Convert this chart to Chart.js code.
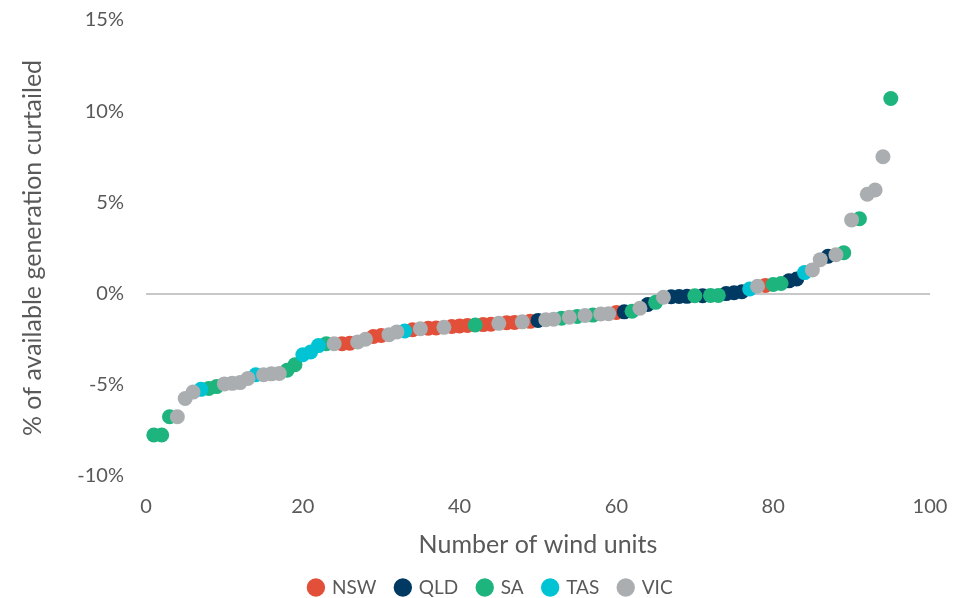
<!DOCTYPE html>
<html>
<head>
<meta charset="utf-8">
<script src="https://cdn.jsdelivr.net/npm/chart.js@4/dist/chart.umd.min.js"></script>
<style>
    html, body { margin: 0; padding: 0; background: #fff; }
    #wrap { width: 960px; height: 598px; position: relative; }
</style>
</head>
<body>
<div id="wrap"><canvas id="curtailChart"></canvas></div>
<script>
// ================= DATA =================

const regions = ["NSW", "QLD", "SA", "TAS", "VIC"];
const regionColors = ["#E2503A", "#003A63", "#1DB47E", "#00C4D3", "#ABAEB0"];

// one entry per wind unit, sorted by curtailment (unit number = position)
const unitRegion = [
    "SA", "SA", "SA", "VIC", "VIC", "VIC", "TAS", "SA", "SA", "VIC",
    "VIC", "VIC", "VIC", "TAS", "VIC", "VIC", "VIC", "SA", "SA", "TAS",
    "TAS", "TAS", "SA", "VIC", "NSW", "NSW", "VIC", "VIC", "NSW", "NSW",
    "VIC", "VIC", "TAS", "NSW", "VIC", "NSW", "NSW", "VIC", "NSW", "NSW",
    "NSW", "SA", "NSW", "NSW", "VIC", "NSW", "NSW", "VIC", "NSW", "QLD",
    "VIC", "VIC", "SA", "VIC", "SA", "VIC", "SA", "VIC", "VIC", "NSW",
    "QLD", "SA", "VIC", "QLD", "SA", "VIC", "QLD", "QLD", "QLD", "SA",
    "QLD", "SA", "SA", "QLD", "QLD", "QLD", "TAS", "VIC", "NSW", "SA",
    "SA", "QLD", "QLD", "TAS", "VIC", "VIC", "QLD", "VIC", "SA", "VIC",
    "SA", "VIC", "VIC", "VIC", "SA",
];

const unitCurtailed = [
    -7.75, -7.75, -6.75, -6.75, -5.75, -5.4, -5.25, -5.2, -5.1, -4.95,
    -4.92, -4.88, -4.65, -4.45, -4.45, -4.4, -4.38, -4.2, -3.9, -3.35,
    -3.2, -2.85, -2.75, -2.75, -2.75, -2.72, -2.65, -2.5, -2.35, -2.3,
    -2.25, -2.1, -2.05, -1.98, -1.93, -1.9, -1.88, -1.85, -1.8, -1.78,
    -1.75, -1.72, -1.7, -1.68, -1.63, -1.6, -1.58, -1.55, -1.52, -1.47,
    -1.43, -1.4, -1.35, -1.3, -1.25, -1.2, -1.18, -1.12, -1.1, -1.03,
    -1.0, -0.97, -0.8, -0.6, -0.48, -0.2, -0.17, -0.16, -0.15, -0.12,
    -0.12, -0.1, -0.1, 0.0, 0.05, 0.1, 0.25, 0.4, 0.45, 0.5,
    0.55, 0.7, 0.8, 1.15, 1.3, 1.86, 2.05, 2.13, 2.24, 4.04,
    4.1, 5.45, 5.68, 7.5, 10.7,
];

const yTicks = [-10, -5, 0, 5, 10, 15];
const xTicks = [0, 20, 40, 60, 80, 100];

// ================= BUILD =================

const textColor = "#595959";
const fontFamily = "Lato, 'Open Sans', sans-serif";

const datasets = regions.map((region, i) => {
    const points = [];
    unitRegion.forEach((r, idx) => {
        if (r === region) points.push({ x: idx + 1, y: unitCurtailed[idx] });
    });
    return {
        label: region,
        data: points,
        backgroundColor: regionColors[i],
        borderWidth: 0,
        pointRadius: 7.5,
        pointHoverRadius: 7.5,
        // later regions painted on top (VIC last)
        order: regions.length - i,
    };
});

// legend sits a little right of centre in the original
const legendShift = {
    id: "legendShift",
    afterLayout(chart) {
        if (!chart.legend) return;
        chart.legend.left += 26;
        chart.legend.right += 26;
    },
};

// ================= CHART =================

new Chart(document.getElementById("curtailChart"), {
    type: "scatter",
    data: { datasets },
    plugins: [legendShift],
    options: {
        responsive: true,
        maintainAspectRatio: false,
        animation: false,
        layout: { padding: { top: 0, right: 30, left: 0, bottom: 0 } },
        plugins: {
            tooltip: { enabled: false },
            legend: {
                position: "bottom",
                maxHeight: 40,
                labels: {
                    color: textColor,
                    font: { family: fontFamily, size: 19 },
                    usePointStyle: true,
                    pointStyle: "circle",
                    boxWidth: 13,
                    boxHeight: 13,
                    padding: 20,
                    sort: (a, b) => a.datasetIndex - b.datasetIndex,
                },
            },
        },
        scales: {
            x: {
                min: 0,
                max: 100,
                afterBuildTicks: (axis) => { axis.ticks = xTicks.map((v) => ({ value: v })); },
                afterFit: (axis) => { axis.height = 82; },
                border: { display: false },
                grid: { display: false },
                ticks: { color: textColor, font: { family: fontFamily, size: 20 }, padding: 11 },
                title: {
                    display: true,
                    text: "Number of wind units",
                    color: textColor,
                    font: { family: fontFamily, size: 25 },
                    padding: { top: 0, bottom: -2 },
                },
            },
            y: {
                min: -10,
                max: 15,
                afterBuildTicks: (axis) => { axis.ticks = yTicks.map((v) => ({ value: v })); },
                afterFit: (axis) => { axis.width = 146; },
                border: { display: false },
                grid: {
                    drawTicks: true,
                    tickLength: 14,
                    tickColor: "rgba(0,0,0,0)",
                    lineWidth: 2,
                    color: (ctx) => (ctx.tick && ctx.tick.value === 0 ? "#C8C8C8" : "rgba(0,0,0,0)"),
                },
                ticks: {
                    color: textColor,
                    font: { family: fontFamily, size: 20 },
                    padding: 8,
                    callback: (v) => v + "%",
                },
                title: {
                    display: true,
                    text: "% of available generation curtailed",
                    color: textColor,
                    font: { family: fontFamily, size: 25 },
                    padding: { top: 18, bottom: 0 },
                },
            },
        },
    },
});
</script>
</body>
</html>
